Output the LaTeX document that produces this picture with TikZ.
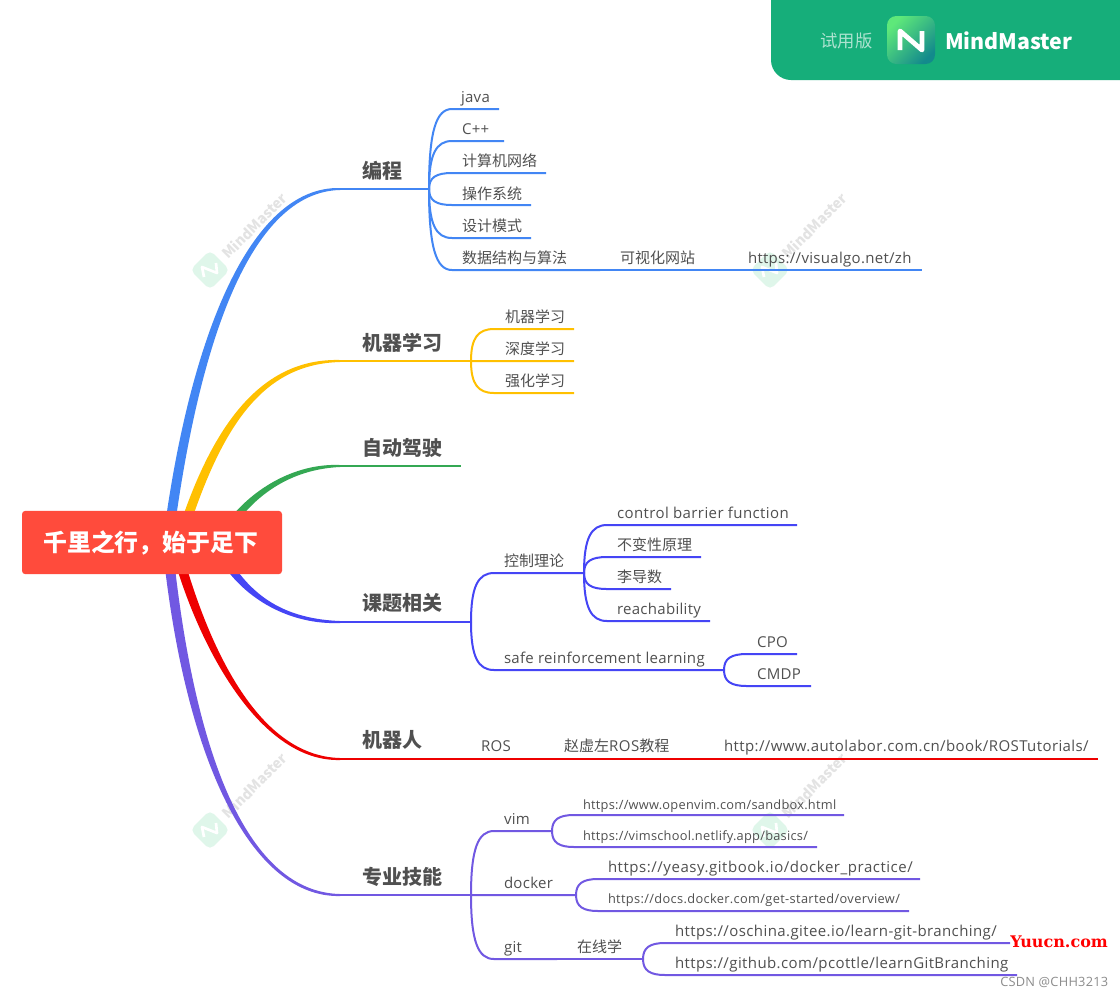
\documentclass[tikz,border=0pt]{standalone}
\usepackage{fontspec}
\setmainfont{Noto Sans CJK SC}
\newfontfamily\lat[LetterSpace=2]{Open Sans}
\newfontfamily\lnk[LetterSpace=2.7]{Open Sans}
\newfontfamily\lnw[LetterSpace=3.6]{Open Sans}
\newfontfamily\yuu{DejaVu Serif}
\usetikzlibrary{calc,shadings}
\definecolor{cblue}{HTML}{4286F4}
\definecolor{cyel}{HTML}{FFC000}
\definecolor{cgrn}{HTML}{34A853}
\definecolor{cind}{HTML}{4545F5}
\definecolor{cred}{HTML}{EE0000}
\definecolor{cpur}{HTML}{7158E2}
\definecolor{txtc}{HTML}{505050}
\definecolor{rootc}{HTML}{FF4B3C}
\definecolor{badge}{HTML}{16AE7A}
\definecolor{wmc}{HTML}{E3E3E3}
\definecolor{wmi}{HTML}{DFF6EA}
\definecolor{logoa}{HTML}{5EE87A}
\definecolor{logob}{HTML}{138A8C}
\tikzset{
  lbl/.style={inner sep=0pt,outer sep=0pt,anchor=base west,text=txtc,font=\fontsize{11.25}{14}\selectfont},
  lblsmall/.style={lbl,font=\fontsize{9.6}{12}\selectfont},
  topic/.style={inner sep=0pt,outer sep=0pt,anchor=base west,text=txtc,font=\fontsize{15}{18}\selectfont\bfseries},
  conn/.style={draw=#1,line width=1.5pt,line join=round},
  wmtext/.style={inner sep=0pt,anchor=west,rotate=45,text=wmc,font=\fontsize{10.7}{13}\selectfont\bfseries},
  wmicon/.style={inner sep=0pt,minimum size=21pt,rotate=45,fill=wmi,rounded corners=4pt},
  rootbox/.style={fill=rootc,rounded corners=2.5pt,text=white,inner sep=0pt,minimum width=195pt,minimum height=47.5pt,font=\fontsize{17.9}{22}\selectfont\bfseries},
}
% name, line start x, text x, line end x, line y, style, text
\newcommand\mitem[7]{%
  \coordinate (#1-s) at (#2,#5);
  \coordinate (#1-e) at (#4,#5);
  \node[#6] (#1) at (#3,{#5-7}) {#7};
}
% name, baseline offset, line end x, line y, text
\newcommand\mtopic[5]{%
  \coordinate (#1-s) at (340,#4);
  \coordinate (#1-e) at (#3,#4);
  \node[topic] (#1) at (362,{#4-#2}) {#5};
}
\newcommand\fork[3]{%
  \draw[conn=#1] (#2-e) .. controls ($(#2-e)!0.72!(#2-e|-#3-s)$) and ($(#2-e|-#3-s)+(7,0)$) .. (#3-s) -- (#3-e);
}
% colour, start, end, c1, c2 (absolute coordinates of the controls), side: 1 up, -1 down
\newcommand\taper[6]{%
  \fill[#1] ($(#2)+(-5,0)$) .. controls ($#4+(-5,0)$) and ($#5+({-1*#6},{-3*#6})$) .. ($(#3)+(0,{-1*#6})$)
    -- ($(#3)+(0,{1*#6})$) .. controls ($#5+({1*#6},{3*#6})$) and ($#4+(5,0)$) .. ($(#2)+(5,0)$) -- cycle;
}
\newcommand\wmark[3]{%
  \node[wmicon] (#1i) at (#2,#3) {};
  \draw[white,line width=2pt,line join=round] ({#2-6},{#3+7}) -- ({#2-8},{#3-3}) -- ({#2+7},{#3+3}) -- ({#2+6},{#3-7});
  \node[wmtext] (#1t) at ({#2+14},{#3-14}) {MindMaster};
}
\begin{document}
\begin{tikzpicture}[x=0.75pt,y=-0.75pt]
\useasboundingbox (0,0) rectangle (1120,997);
\fill[white] (0,0) rectangle (1120,997);
% watermarks
\wmark{wa}{210}{270}
\wmark{wb}{770}{270}
\wmark{wc}{210}{830}
\wmark{wd}{770}{830}
% topics
\mtopic{bc}{11}{429}{189}{编程}
\mtopic{ml}{11}{471}{361}{机器学习}
\mtopic{ad}{11}{461}{466}{自动驾驶}
\mtopic{kt}{12}{471}{622}{课题相关}
\mtopic{rb}{12}{471}{759}{机器人}
\mtopic{zy}{11}{471}{895}{专业技能}
% 编程
\mitem{java}{452}{461}{499}{109}{lbl}{\lat java}
\mitem{cpp}{452}{462}{504}{141}{lbl}{\lat C++}
\mitem{net}{452}{462}{546}{173}{lbl}{计算机网络}
\mitem{os}{452}{462}{531}{205}{lbl,yshift=-0.75pt}{操作系统}
\mitem{dp}{452}{462}{531}{238}{lbl}{设计模式}
\mitem{ds}{452}{462}{600}{270}{lbl}{数据结构与算法}
\mitem{vis}{600}{620}{728}{270}{lbl}{可视化网站}
\mitem{vgo}{728}{748}{922}{270}{lbl}{\lat https://visualgo.net/zh}
% 机器学习
\mitem{ml1}{494}{505}{574}{329}{lbl}{机器学习}
\mitem{ml2}{494}{505}{574}{361}{lbl}{深度学习}
\mitem{ml3}{494}{505}{574}{393}{lbl}{强化学习}
% 课题相关
\mitem{ctl}{494}{504}{584}{573}{lbl}{控制理论}
\mitem{srl}{494}{504}{724}{670}{lbl}{\lat safe reinforcement learning}
\mitem{cbf}{607}{617}{797}{525}{lbl}{\lnk control barrier function}
\mitem{inv}{607}{617}{701}{557}{lbl}{不变性原理}
\mitem{lie}{607}{617}{671}{589}{lbl}{李导数}
\mitem{rea}{607}{617}{710}{621}{lbl}{\lat reachability}
\mitem{cpo}{747}{757}{797}{654}{lbl}{\lat CPO}
\mitem{cmdp}{747}{757}{811}{686}{lbl}{\lat CMDP}
% 机器人
\mitem{ros}{471}{481}{544}{759}{lbl,yshift=0.75pt}{\lat ROS}
\mitem{zhao}{544}{564}{704}{759}{lbl,yshift=0.75pt}{赵虚左{\lnw ROS}教程}
\mitem{auto}{704}{724}{1098}{759}{lbl,yshift=0.75pt}{\lnk http://www.autolabor.com.cn/book/ROSTutorials/}
% 专业技能
\mitem{vim}{494}{504}{552}{831}{lbl}{\lat vim}
\mitem{dock}{494}{504}{576}{895}{lbl}{\lat docker}
\mitem{git}{494}{504}{557}{959}{lbl}{\lat git}
\mitem{onl}{557}{577}{643}{959}{lbl}{在线学}
\mitem{v1}{574}{583}{844}{815}{lblsmall,yshift=-0.75pt}{\lat https://www.openvim.com/sandbox.html}
\mitem{v2}{574}{583}{817}{847}{lblsmall}{\lat https://vimschool.netlify.app/basics/}
\mitem{d1}{598}{608}{920}{879}{lbl}{\lnw https://yeasy.gitbook.io/docker\_practice/}
\mitem{d2}{598}{608}{909}{911}{lblsmall,yshift=0.75pt}{\lnk https://docs.docker.com/get-started/overview/}
\mitem{g1}{665}{675}{1010}{943}{lbl}{\lnk https://oschina.gitee.io/learn-git-branching/}
\mitem{g2}{665}{675}{1017}{975}{lbl}{\lnk https://github.com/pcottle/learnGitBranching}
% main tapered branches
\coordinate (ra) at (168,540);
\coordinate (rb0) at (185,525);
\coordinate (rc) at (230,525);
\coordinate (rd) at (225,560);
\coordinate (re) at (178,555);
\coordinate (rf) at (168,550);
\taper{cblue}{ra}{bc-s}{(194,340)}{(250,189)}{1}
\taper{cyel}{rb0}{ml-s}{(220,420)}{(265,361)}{1}
\taper{cgrn}{rc}{ad-s}{(255,490)}{(295,466)}{1}
\taper{cind}{rd}{kt-s}{(250,600)}{(290,622)}{-1}
\taper{cred}{re}{rb-s}{(205,650)}{(260,759)}{-1}
\taper{cpur}{rf}{zy-s}{(190,760)}{(250,895)}{-1}
% root
\node[rootbox] (root) at (152,542.5) {\hspace*{-2pt}\raisebox{-0.7pt}{千里之行，始于足下}};
% topic lines
\draw[conn=cblue] (bc-s) -- (bc-e);
\draw[conn=cyel] (ml-s) -- (ml-e);
\draw[conn=cgrn] (ad-s) -- (ad-e);
\draw[conn=cind] (kt-s) -- (kt-e);
\draw[conn=cred] (rb-s) -- (rb-e);
\draw[conn=cpur] (zy-s) -- (zy-e);
% forks
\fork{cblue}{bc}{java}
\fork{cblue}{bc}{cpp}
\fork{cblue}{bc}{net}
\fork{cblue}{bc}{os}
\fork{cblue}{bc}{dp}
\fork{cblue}{bc}{ds}
\draw[conn=cblue] (ds-e) -- (vis-e) -- (vgo-e);
\fork{cyel}{ml}{ml1}
\fork{cyel}{ml}{ml2}
\fork{cyel}{ml}{ml3}
\fork{cind}{kt}{ctl}
\fork{cind}{kt}{srl}
\fork{cind}{ctl}{cbf}
\fork{cind}{ctl}{inv}
\fork{cind}{ctl}{lie}
\fork{cind}{ctl}{rea}
\fork{cind}{srl}{cpo}
\fork{cind}{srl}{cmdp}
\draw[conn=cred] (rb-e) -- (ros-e) -- (zhao-e) -- (auto-e);
\fork{cpur}{zy}{vim}
\fork{cpur}{zy}{dock}
\fork{cpur}{zy}{git}
\draw[conn=cpur] (git-e) -- (onl-e);
\fork{cpur}{vim}{v1}
\fork{cpur}{vim}{v2}
\fork{cpur}{dock}{d1}
\fork{cpur}{dock}{d2}
\fork{cpur}{onl}{g1}
\fork{cpur}{onl}{g2}
% badge
\fill[badge] (771,0) -- (771,60) .. controls (771,71) and (780,80) .. (791,80) -- (1120,80) -- (1120,0) -- cycle;
\node[inner sep=0pt,text=white!65!badge,font=\fontsize{13}{16}\selectfont] (trial) at (846.5,41) {试用版};
\node[inner sep=0pt,minimum size=36pt,rounded corners=7pt,left color=logoa,right color=logob,shading angle=45] (logo) at (911,40) {};
\draw[white,line width=3.6pt,line join=round] (900,50) -- (900,31) -- (922,50) -- (922,31);
\node[inner sep=0pt,anchor=west,text=white,font=\fontsize{16}{20}\selectfont\bfseries] (mm) at (945,41) {MindMaster};
% stamps
\node[inner sep=0pt,anchor=west,text=red,font=\fontsize{12}{14}\selectfont\yuu\bfseries] (yuucn) at (1010,942) {Yuucn.com};
\node[inner sep=0pt,anchor=west,text=black!45,font=\fontsize{9.6}{11}\selectfont\lat] (csdn) at (1000,982) {CSDN @CHH3213};
\end{tikzpicture}
\end{document}
